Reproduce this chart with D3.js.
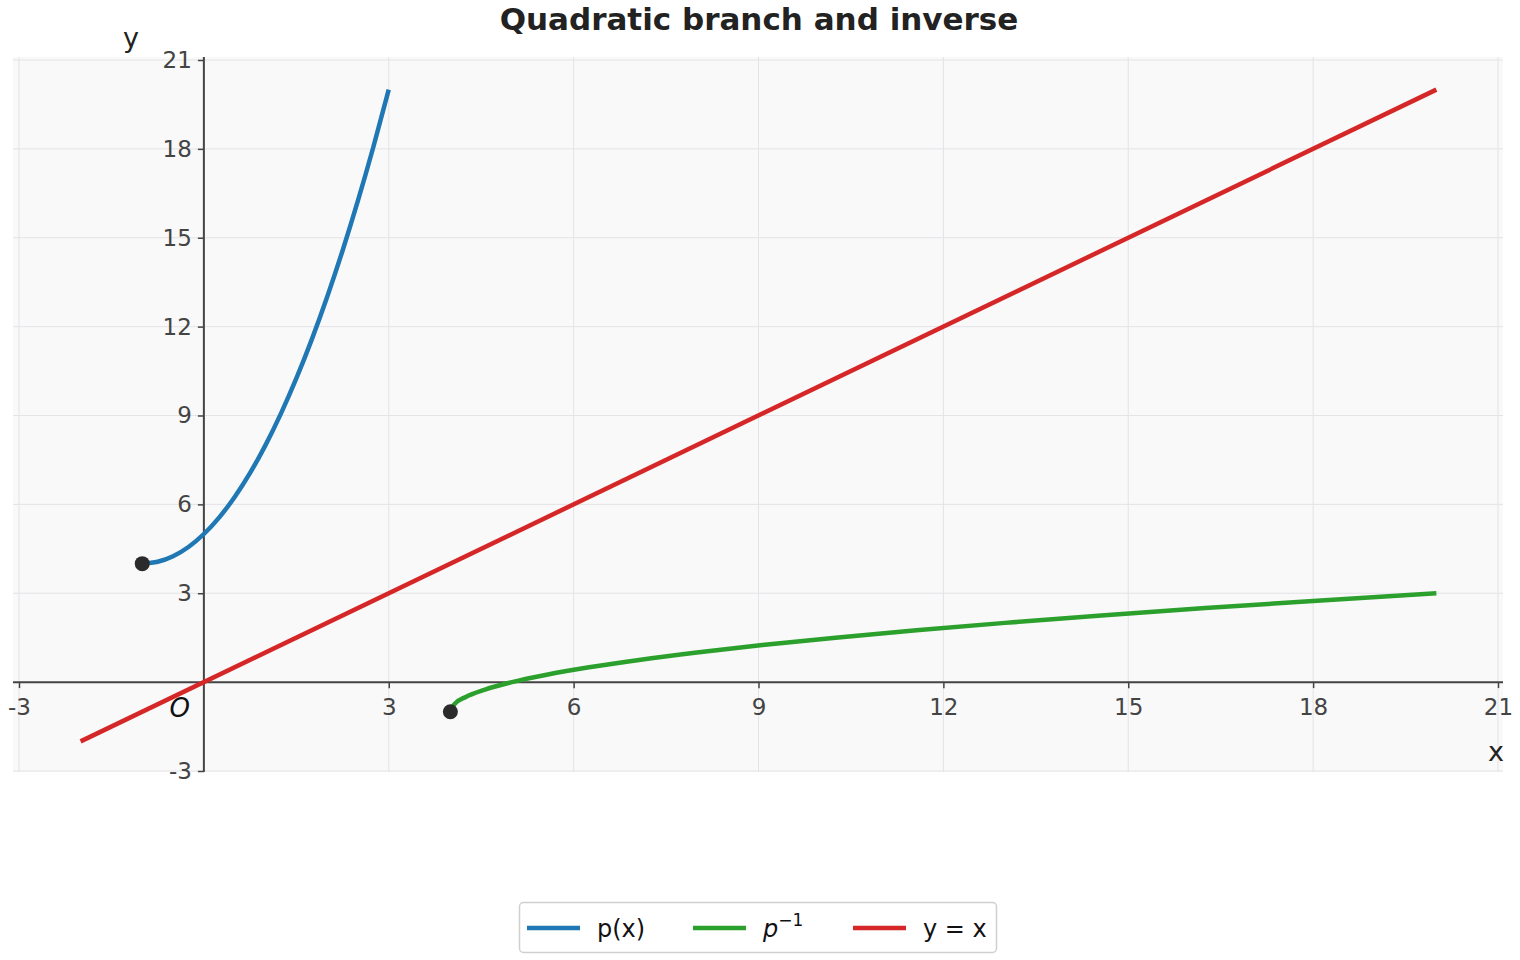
<!DOCTYPE html>
<html>
<head>
<meta charset="utf-8">
<script src="https://cdn.jsdelivr.net/npm/d3@7"></script>
<style>
  body { margin: 0; background: #fff; }
  svg { font-family: 'DejaVu Sans', sans-serif; }
</style>
</head>
<body>
<svg id="container" width="1520" height="960"></svg>
<script>
// data
const branchX = [-1, -0.75, -0.5, -0.25, 0, 0.25, 0.5, 0.75, 1, 1.25, 1.5, 1.75, 2, 2.25, 2.5, 2.75, 3]
const branchY = [4, 4.0625, 4.25, 4.5625, 5, 5.5625, 6.25, 7.0625, 8, 9.0625, 10.25, 11.5625, 13, 14.5625, 16.25, 18.0625, 20]
const inverseX = [4, 4.0625, 4.25, 4.5625, 5, 5.5625, 6.25, 7.0625, 8, 9.0625, 10.25, 11.5625, 13, 14.5625, 16.25, 18.0625, 20]
const inverseY = [-1, -0.75, -0.5, -0.25, 0, 0.25, 0.5, 0.75, 1, 1.25, 1.5, 1.75, 2, 2.25, 2.5, 2.75, 3]
const identityX = [-2, 20]
const identityY = [-2, 20]
const endpoints = [[-1, 4], [4, -1]]
const ticks = [-3, 0, 3, 6, 9, 12, 15, 18, 21]
const legendItems = ['p(x)', 'p-1', 'y = x']
const colors = ['#1f77b4', '#2ca02c', '#d62728']

const svg = d3.select('#container')

// plot box
const bg = { left: 13, right: 1503, top: 57, bottom: 772 }
const x = d3.scaleLinear().domain([-3, 21]).range([19, 1498])
const y = d3.scaleLinear().domain([-3, 21]).range([771, 60])

svg.append('rect')
  .attr('x', bg.left).attr('y', bg.top)
  .attr('width', bg.right - bg.left).attr('height', bg.bottom - bg.top)
  .attr('fill', '#f9f9f9')

// grid
const grid = svg.append('g').attr('stroke', '#e3e3e8').attr('stroke-width', 1)
grid.selectAll('.vg').data(ticks).join('line')
  .attr('x1', d => x(d)).attr('x2', d => x(d))
  .attr('y1', bg.top).attr('y2', bg.bottom)
grid.selectAll('.hg').data(ticks).join('line')
  .attr('y1', d => y(d)).attr('y2', d => y(d))
  .attr('x1', bg.left).attr('x2', bg.right)

// axes through the origin
const axisColor = '#444'
const xAxis = d3.axisBottom(x).tickValues(ticks.filter(d => d !== 0))
  .tickSize(6).tickPadding(5).tickFormat(d3.format('d'))
const gX = svg.append('g')
  .attr('transform', `translate(0,${y(0)})`)
  .call(xAxis)
gX.select('.domain').remove()
const yAxis = d3.axisLeft(y).tickValues(ticks.filter(d => d !== 0))
  .tickSize(6).tickPadding(6).tickFormat(d3.format('d'))
const gY = svg.append('g')
  .attr('transform', `translate(${x(0)},0)`)
  .call(yAxis)
gY.select('.domain').remove()

svg.selectAll('.tick line').attr('stroke', axisColor).attr('stroke-width', 1.5)
svg.selectAll('.tick text')
  .attr('fill', axisColor)
  .style('font-size', '23px')
  .style('font-family', "'DejaVu Sans', sans-serif")
  .text(d => String(d).replace('\u2212', '-'))
gX.selectAll('.tick text').attr('dy', '0.95em')

svg.append('line')
  .attr('x1', bg.left).attr('x2', bg.right)
  .attr('y1', y(0)).attr('y2', y(0))
  .attr('stroke', axisColor).attr('stroke-width', 2)
svg.append('line')
  .attr('x1', x(0)).attr('x2', x(0))
  .attr('y1', bg.top).attr('y2', bg.bottom)
  .attr('stroke', axisColor).attr('stroke-width', 2)

// curves
const line = d3.line().x(d => x(d[0])).y(d => y(d[1])).curve(d3.curveMonotoneX)
const series = [
  d3.zip(branchX, branchY),
  d3.zip(inverseX, inverseY),
  d3.zip(identityX, identityY)
]
svg.append('g').selectAll('path').data(series).join('path')
  .attr('d', line)
  .attr('fill', 'none')
  .attr('stroke', (d, i) => colors[i])
  .attr('stroke-width', 4.5)

svg.append('g').selectAll('circle').data(endpoints).join('circle')
  .attr('cx', d => x(d[0])).attr('cy', d => y(d[1]))
  .attr('r', 7.5).attr('fill', '#2b2b2b')

// labels
svg.append('text')
  .attr('x', x(0) - 14).attr('y', y(0) + 35)
  .attr('text-anchor', 'end')
  .style('font-size', '26px').style('font-style', 'italic')
  .attr('fill', '#111').text('O')
svg.append('text')
  .attr('x', 1496).attr('y', 761)
  .attr('text-anchor', 'middle')
  .style('font-size', '27px').attr('fill', '#222').text('x')
svg.append('text')
  .attr('x', 131).attr('y', 47)
  .attr('text-anchor', 'middle')
  .style('font-size', '27px').attr('fill', '#222').text('y')

svg.append('text')
  .attr('x', 759).attr('y', 30)
  .attr('text-anchor', 'middle')
  .style('font-size', '31px').style('font-weight', 'bold')
  .attr('fill', '#222').text('Quadratic branch and inverse')

// legend
const legend = svg.append('g')
legend.append('rect')
  .attr('x', 519.5).attr('y', 902.5).attr('width', 477).attr('height', 50)
  .attr('rx', 4).attr('fill', '#fff').attr('stroke', '#d0d0d0').attr('stroke-width', 1.5)
const legendX = [527, 693, 853]
const entries = legend.selectAll('g.entry').data(legendItems).join('g')
  .attr('transform', (d, i) => `translate(${legendX[i]},928)`)
entries.append('line')
  .attr('x1', 0).attr('x2', 53)
  .attr('stroke', (d, i) => colors[i]).attr('stroke-width', 4.5)
entries.each(function (d, i) {
  const t = d3.select(this).append('text')
    .attr('x', 70).attr('y', 9)
    .style('font-size', '24px').attr('fill', '#111')
  if (d === 'p-1') {
    t.append('tspan').style('font-style', 'italic').text('p')
    t.append('tspan').attr('dy', -11).style('font-size', '17px').text('\u22121')
  } else {
    t.text(d)
  }
})
</script>
</body>
</html>
